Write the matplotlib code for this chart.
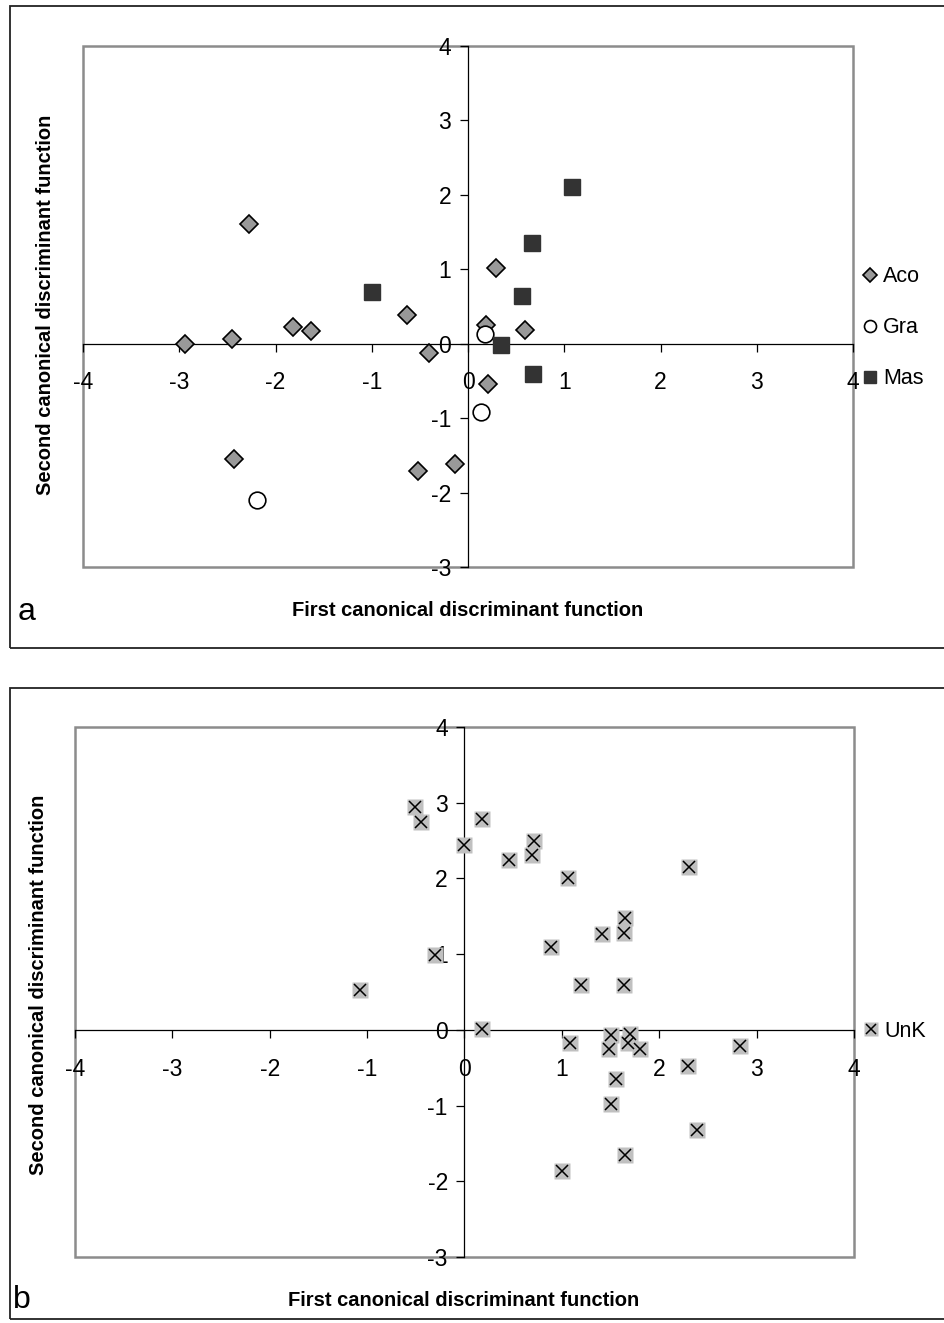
import matplotlib
matplotlib.use('Agg')
import matplotlib.pyplot as plt
from matplotlib.patches import Rectangle
from matplotlib.legend_handler import HandlerTuple

plt.rcParams['font.family'] = ['Liberation Sans', 'DejaVu Sans']
plt.rcParams['axes.unicode_minus'] = False

# panel a: discriminant scores of the three known groups
aco_x = [-2.28, -2.94, -2.45, -1.82, -1.63, -0.63, -0.41, -2.43, -0.52, -0.14, 0.29, 0.19, 0.59, 0.21]
aco_y = [1.61, 0.00, 0.07, 0.22, 0.17, 0.39, -0.12, -1.55, -1.71, -1.61, 1.02, 0.25, 0.19, -0.54]
gra_x = [-2.19, 0.18, 0.13]
gra_y = [-2.10, 0.13, -0.92]
mas_x = [-1.00, 1.08, 0.66, 0.56, 0.34, 0.68]
mas_y = [0.69, 2.11, 1.35, 0.64, -0.02, -0.41]

# panel b: unknown samples
unk_x = [-0.51, -0.45, -0.01, 0.18, -0.30, -1.07, 0.18, 0.46, 0.69, 0.71, 1.06, 2.31, 1.65, 1.41, 1.64, 0.89,
         1.20, 1.64, 1.08, 1.50, 1.70, 1.48, 1.68, 1.80, 2.83, 2.30, 1.56, 1.50, 2.39, 1.65, 1.00]
unk_y = [2.94, 2.75, 2.44, 2.78, 0.99, 0.53, 0.01, 2.25, 2.31, 2.50, 2.00, 2.15, 1.48, 1.26, 1.28, 1.09,
         0.59, 0.59, -0.18, -0.07, -0.06, -0.25, -0.18, -0.25, -0.21, -0.48, -0.65, -0.98, -1.32, -1.65, -1.87]

x_ticks = list(range(-4, 5))
y_ticks = list(range(-3, 5))
xlabel = 'First canonical discriminant function'
ylabel = 'Second canonical discriminant function'

W, H = 944, 1323
fig = plt.figure(figsize=(W / 100, H / 100), dpi=100)


def px_box(x0, y0, x1, y1):
    """pixel box (top-left origin) -> figure fraction [l, b, w, h]"""
    return [x0 / W, 1 - y1 / H, (x1 - x0) / W, (y1 - y0) / H]


def setup(ax, ylab_x, ylab_y):
    ax.set_xlim(-4, 4)
    ax.set_ylim(-3, 4)
    for s in ['top', 'right']:
        ax.spines[s].set_visible(False)
    for s in ['left', 'bottom']:
        ax.spines[s].set_position(('data', 0))
        ax.spines[s].set_color('black')
        ax.spines[s].set_linewidth(0.9)
    ax.add_patch(Rectangle((0, 0), 1, 1, transform=ax.transAxes, fill=False,
                           edgecolor='#8c8c8c', lw=1.8, clip_on=False, zorder=0.5))
    ax.set_xticks(x_ticks)
    ax.set_yticks(y_ticks)
    ax.tick_params(axis='x', direction='out', length=6, width=0.9, pad=14, labelsize=16.5)
    ax.tick_params(axis='y', direction='out', length=6, width=0.9, pad=6, labelsize=16.5)
    ax.text(0.499, -0.083, xlabel, transform=ax.transAxes, ha='center', va='center',
            fontsize=14.5, fontweight='bold')
    ax.text(ylab_x, ylab_y, ylabel, transform=ax.transAxes, ha='center', va='center',
            rotation=90, fontsize=14.5, fontweight='bold')


# outer frames around each panel
fig.patches.append(Rectangle((9.5 / W, 1 - 648 / H), 1.0, (648 - 6) / H, transform=fig.transFigure,
                             fill=False, edgecolor='#222222', lw=1.3))
fig.patches.append(Rectangle((10 / W, 1 - 1319 / H), 1.0, (1319 - 688) / H, transform=fig.transFigure,
                             fill=False, edgecolor='#222222', lw=1.3))

# panel a
ax1 = fig.add_axes(px_box(83, 46, 853, 567))
setup(ax1, -0.049, 0.503)
ax1.plot(aco_x, aco_y, 'D', ms=9.5, mfc='#999999', mec='black', mew=1.2, label='Aco', zorder=3)
ax1.plot(gra_x, gra_y, 'o', ms=12, mfc='white', mec='black', mew=1.2, label='Gra', zorder=3)
ax1.plot(mas_x, mas_y, 's', ms=12, mfc='#333333', mec='#333333', label='Mas', zorder=3)
ax1.legend(loc='center left', bbox_to_anchor=(1.0, 0.459), frameon=False, fontsize=15.5,
           markerscale=0.72, handlelength=0.8, handletextpad=0.2, labelspacing=1.4,
           borderaxespad=0)
fig.text(27 / W, 1 - 612 / H, 'a', fontsize=23, ha='center', va='center')

# panel b
ax2 = fig.add_axes(px_box(75, 727, 854, 1257))
setup(ax2, -0.047, 0.513)
bg, = ax2.plot(unk_x, unk_y, 's', ms=12, mfc='#c0c0c0', mec='none', zorder=3)
cross, = ax2.plot(unk_x, unk_y, 'x', ms=9, mec='black', mew=1.1, zorder=4)
ax2.legend([(bg, cross)], ['UnK'], handler_map={tuple: HandlerTuple(ndivide=1)},
           loc='center left', bbox_to_anchor=(1.0, 0.426), frameon=False, fontsize=15.5,
           markerscale=0.8, handlelength=0.8, handletextpad=0.2, borderaxespad=0)
fig.text(22 / W, 1 - 1300 / H, 'b', fontsize=23, ha='center', va='center')

fig.savefig('out.png', dpi=100)
